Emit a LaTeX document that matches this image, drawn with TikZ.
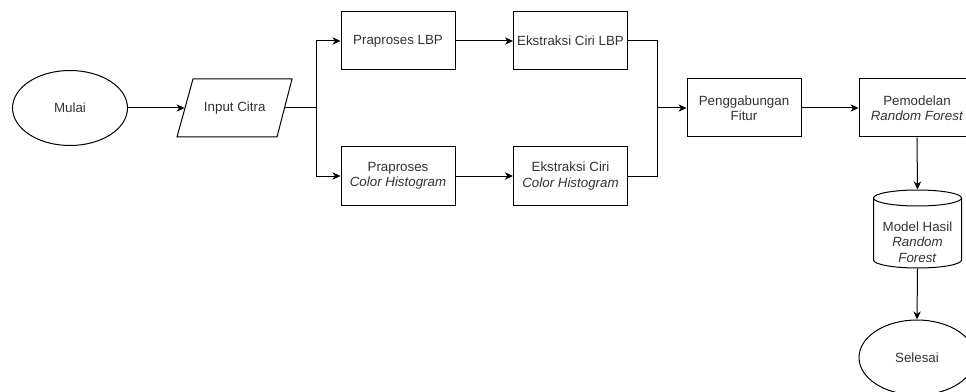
\documentclass[tikz,border=0pt]{standalone}
\usepackage{fontspec}
\setmainfont{Liberation Sans}
\usetikzlibrary{arrows.meta,shapes.geometric}
\definecolor{txt}{HTML}{333333}
\begin{document}
\begin{tikzpicture}[x=0.75pt,y=-0.75pt,
  base/.style={draw=black,line width=0.75pt,inner sep=0pt,align=center,text=txt,
    font=\fontsize{10}{11.5}\selectfont},
  procbox/.style={base,rectangle,minimum width=85.5pt,minimum height=43.5pt},
  termin/.style={base,ellipse,minimum width=86.25pt,minimum height=56.25pt},
  conn/.style={line width=0.75pt,draw=black},
  arr/.style={conn,-{Stealth[length=6pt,width=5.5pt,inset=1.8pt]}}]
\useasboundingbox (0,0) rectangle (966,392);
\clip (0,0) rectangle (966,392);
\fill[white] (0,0) rectangle (966,392);
% nodes
\node[termin] (mulai) at (70,108) {Mulai};
\node[base,draw=none,minimum width=74.6pt,minimum height=43.5pt] (input) at (234.75,108) {Input Citra};
\draw[line width=0.75pt] (193,79) -- (292,79) -- (277,137) -- (177,137) -- cycle;
\node[procbox] (plbp) at (398,41) {Praproses LBP};
\node[procbox] (elbp) at (570.5,41) {Ekstraksi Ciri LBP};
\node[procbox] (pch) at (398,176) {Praproses\\\textit{Color Histogram}};
\node[procbox] (ech) at (570.5,176) {Ekstraksi Ciri\\\textit{Color Histogram}};
\node[procbox] (pg) at (744,108) {Penggabungan\\Fitur};
\node[procbox,minimum width=87pt] (pem) at (917,108) {Pemodelan\\\textit{Random Forest}};
\node[base,draw=none,minimum width=66pt,minimum height=58.5pt] (cyl) at (917.5,229) {};
\draw[line width=0.75pt] (873.5,198) -- (873.5,260) arc[start angle=180,end angle=0,x radius=44,y radius=8]
  -- (961.5,198) arc[start angle=0,end angle=-180,x radius=44,y radius=8]
  arc[start angle=180,end angle=0,x radius=44,y radius=8];
\node[base,draw=none] (cyltext) at (917.5,242) {Model Hasil\\\textit{Random}\\\textit{Forest}};
\node[termin,minimum width=87pt] (sel) at (917,357.5) {Selesai};
% coordinates
\coordinate (split) at (316,108);
\coordinate (join) at (657,108);
% connectors
\draw[arr] (mulai.east) -- (input.west);
\draw[conn] (input.east) -- (split);
\draw[conn] (split |- plbp.west) -- (split |- pch.west);
\draw[arr] (split |- plbp.west) -- (plbp.west);
\draw[arr] (split |- pch.west) -- (pch.west);
\draw[arr] (plbp.east) -- (elbp.west);
\draw[arr] (pch.east) -- (ech.west);
\draw[conn] (elbp.east) -| (join);
\draw[conn] (ech.east) -| (join);
\draw[arr] (join) -- (pg.west);
\draw[arr] (pg.east) -- (pem.west);
\draw[arr] (pem.south) -- (cyl.north);
\draw[arr] (cyl.south) -- (sel.north);
\end{tikzpicture}
\end{document}
